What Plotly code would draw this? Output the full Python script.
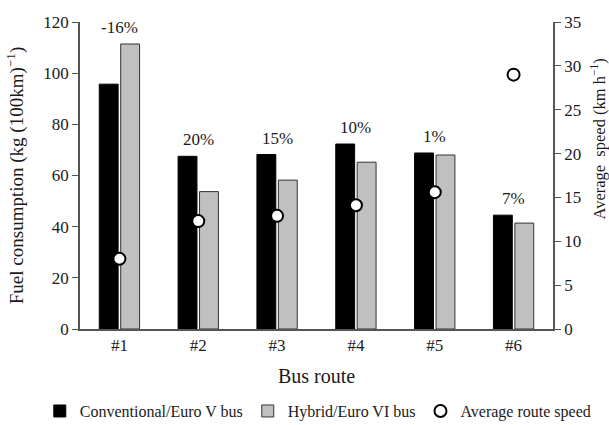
import plotly.graph_objects as go

routes = ["#1", "#2", "#3", "#4", "#5", "#6"]
conventional = [95.7, 67.5, 68.2, 72.3, 68.8, 44.5]
hybrid = [111.4, 53.7, 58.2, 65.2, 68.0, 41.4]
avg_speed = [8.0, 12.3, 12.9, 14.1, 15.6, 29.0]
diff_labels = ["-16%", "20%", "15%", "10%", "1%", "7%"]

FONT = "Liberation Serif"
AXIS_COLOR = "#555555"
TEXT_COLOR = "#1a1a1a"

fig = go.Figure()

fig.add_trace(go.Bar(
    x=routes, y=conventional, name="Conventional/Euro V bus",
    marker=dict(color="#000000", line=dict(color="#000000", width=1)),
))
fig.add_trace(go.Bar(
    x=routes, y=hybrid, name="Hybrid/Euro VI bus",
    marker=dict(color="#c0c0c0", line=dict(color="#333333", width=1)),
))
fig.add_trace(go.Scatter(
    x=routes, y=avg_speed, name="Average route speed", mode="markers",
    yaxis="y2",
    marker=dict(symbol="circle", size=12, color="#ffffff",
                line=dict(color="#000000", width=2)),
))

# percentage difference labels above each route's bar pair
for r, c, h, lab in zip(routes, conventional, hybrid, diff_labels):
    fig.add_annotation(
        x=r, y=max(c, h), text=lab, showarrow=False,
        yanchor="bottom", yshift=5, xref="x", yref="y",
        font=dict(family=FONT, size=17, color=TEXT_COLOR),
    )

# right-axis title, placed a little above the axis midpoint
fig.add_annotation(
    text="Average  speed (km h<sup>−1</sup>)", textangle=-90,
    xref="paper", yref="paper", x=1.097, y=0.62,
    xanchor="center", yanchor="middle", showarrow=False,
    font=dict(family=FONT, size=16.5, color=TEXT_COLOR),
)

fig.update_layout(
    width=609, height=425,
    margin=dict(l=80, r=56, t=22, b=96, autoexpand=False),
    paper_bgcolor="white", plot_bgcolor="white",
    barmode="group", bargap=0.456, bargroupgap=0.12,
    font=dict(family=FONT, size=16, color=TEXT_COLOR),
    showlegend=True,
    legend=dict(
        orientation="h", x=-0.085, xanchor="left", y=-0.212, yanchor="top",
        font=dict(family=FONT, size=16, color=TEXT_COLOR),
        itemwidth=30, traceorder="normal",
    ),
    xaxis=dict(
        showline=True, linecolor=AXIS_COLOR, linewidth=1.5,
        ticks="", showgrid=False,
        tickfont=dict(family=FONT, size=17),
        title=dict(text="Bus route", font=dict(family=FONT, size=20)),
    ),
    yaxis=dict(
        range=[0, 120], dtick=20,
        showline=True, linecolor=AXIS_COLOR, linewidth=1.5,
        ticks="outside", ticklen=6, tickcolor=AXIS_COLOR,
        showgrid=False, zeroline=False,
        tickfont=dict(family=FONT, size=17),
        title=dict(text="Fuel consumption (kg (100km)<sup>−1</sup>)",
                   font=dict(family=FONT, size=19)),
    ),
    yaxis2=dict(
        range=[0, 35], dtick=5, overlaying="y", side="right",
        showline=True, linecolor=AXIS_COLOR, linewidth=1.5,
        ticks="outside", ticklen=6, tickcolor=AXIS_COLOR,
        showgrid=False, zeroline=False,
        tickfont=dict(family=FONT, size=17),
    ),
)

fig.write_html("out.html")
